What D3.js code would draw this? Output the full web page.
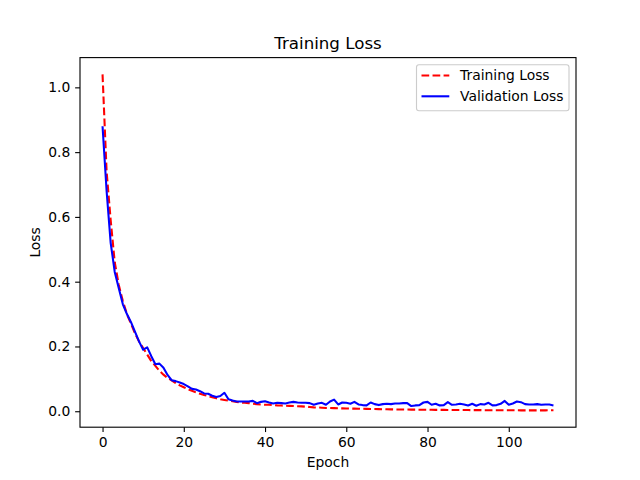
<!DOCTYPE html>
<html>
<head>
<meta charset="utf-8">
<script src="https://cdn.jsdelivr.net/npm/d3@7"></script>
<style>
  body { margin: 0; background: #fff; }
  svg { display: block; font-family: "DejaVu Sans", sans-serif; }
</style>
</head>
<body>
<div id="chart"></div>
<script>
// loss per epoch
trainLoss = [
  1.04, 0.74, 0.59, 0.46, 0.39, 0.34, 0.30, 0.27, 0.24, 0.215,
  0.195, 0.175, 0.155, 0.14, 0.125, 0.113, 0.103, 0.095, 0.087, 0.080,
  0.074, 0.068, 0.063, 0.058, 0.054, 0.050, 0.047, 0.043, 0.040, 0.037,
  0.035, 0.033, 0.031, 0.029, 0.027, 0.026, 0.025, 0.023, 0.022, 0.021,
  0.020, 0.020, 0.019, 0.018, 0.0175, 0.017, 0.0165, 0.016, 0.0155, 0.015,
  0.014, 0.013, 0.012, 0.0115, 0.011, 0.010, 0.0098, 0.0095, 0.009, 0.0088,
  0.0085, 0.0082, 0.008, 0.0078, 0.0075, 0.0072, 0.007, 0.0068, 0.0065, 0.0063,
  0.006, 0.0058, 0.0056, 0.0055, 0.0053, 0.0052, 0.005, 0.0049, 0.0048, 0.0046,
  0.0045, 0.0044, 0.0043, 0.0042, 0.0041, 0.004, 0.0039, 0.0038, 0.0037, 0.0036,
  0.0036, 0.0035, 0.0034, 0.0034, 0.0033, 0.0032, 0.0032, 0.0031, 0.0031, 0.003,
  0.003, 0.0029, 0.0029, 0.0028, 0.0028, 0.0027, 0.0027, 0.0026, 0.0026, 0.0027,
  0.0029, 0.0031
]
valLoss = [
  0.88, 0.68, 0.52, 0.43, 0.38, 0.33, 0.30, 0.275, 0.245, 0.215,
  0.19, 0.197, 0.17, 0.145, 0.147, 0.134, 0.112, 0.096, 0.093, 0.089,
  0.084, 0.077, 0.069, 0.067, 0.062, 0.055, 0.054, 0.048, 0.044, 0.047,
  0.057, 0.037, 0.033, 0.030, 0.030, 0.030, 0.030, 0.032, 0.025, 0.029,
  0.031, 0.027, 0.024, 0.026, 0.025, 0.024, 0.027, 0.029, 0.027, 0.026,
  0.026, 0.025, 0.020, 0.024, 0.026, 0.020, 0.030, 0.036, 0.021, 0.027,
  0.026, 0.023, 0.029, 0.021, 0.019, 0.018, 0.027, 0.022, 0.019, 0.022,
  0.023, 0.022, 0.024, 0.024, 0.025, 0.025, 0.016, 0.018, 0.019, 0.027,
  0.029, 0.020, 0.023, 0.018, 0.019, 0.028, 0.020, 0.021, 0.023, 0.021,
  0.018, 0.023, 0.017, 0.022, 0.021, 0.026, 0.018, 0.019, 0.023, 0.032,
  0.020, 0.024, 0.030, 0.028, 0.022, 0.021, 0.021, 0.022, 0.020, 0.021,
  0.021, 0.018
]
xTicks = [0, 20, 40, 60, 80, 100]
yTicks = [0.0, 0.2, 0.4, 0.6, 0.8, 1.0]
seriesNames = ["Training Loss", "Validation Loss"]
seriesColors = ["#ff0000", "#0000ff"]

const width = 640, height = 480;
const margin = {left: 80, right: 64, top: 57.6, bottom: 52.8};
const pt = 100 / 72; // matplotlib points -> px at 100 dpi

const svg = d3.select("#chart").append("svg")
    .attr("width", width)
    .attr("height", height);

// matplotlib style 5% padding on the data range
const epochs = d3.range(trainLoss.length);
const xExt = d3.extent(epochs);
const yExt = d3.extent(trainLoss.concat(valLoss));
const xPad = (xExt[1] - xExt[0]) * 0.05, yPad = (yExt[1] - yExt[0]) * 0.05;

const x = d3.scaleLinear()
    .domain([xExt[0] - xPad, xExt[1] + xPad])
    .range([margin.left, width - margin.right]);
const y = d3.scaleLinear()
    .domain([yExt[0] - yPad, yExt[1] + yPad])
    .range([height - margin.bottom, margin.top]);

const line = d3.line()
    .x((d, i) => x(i))
    .y(d => y(d));

const plot = svg.append("g");
plot.append("path")
    .datum(trainLoss)
    .attr("d", line)
    .attr("fill", "none")
    .attr("stroke", seriesColors[0])
    .attr("stroke-width", 1.5 * pt)
    .attr("stroke-dasharray", `${5.55 * pt},${2.4 * pt}`);
plot.append("path")
    .datum(valLoss)
    .attr("d", line)
    .attr("fill", "none")
    .attr("stroke", seriesColors[1])
    .attr("stroke-width", 1.5 * pt)
    .attr("stroke-linejoin", "round");

// axes
const tick = 3.5 * pt;
const xAxis = svg.append("g")
    .attr("transform", `translate(0,${height - margin.bottom})`)
    .call(d3.axisBottom(x).tickValues(xTicks).tickSize(tick).tickPadding(3.5 * pt).tickFormat(d3.format("d")));
const yAxis = svg.append("g")
    .attr("transform", `translate(${margin.left},0)`)
    .call(d3.axisLeft(y).tickValues(yTicks).tickSize(tick).tickPadding(3.5 * pt).tickFormat(d3.format(".1f")));
[xAxis, yAxis].forEach(a => {
  a.select(".domain").remove();
  a.selectAll(".tick line").attr("stroke", "#000").attr("stroke-width", 0.8 * pt);
  a.selectAll(".tick text")
      .attr("fill", "#000")
      .style("font-family", "DejaVu Sans")
      .style("font-size", (10 * pt) + "px");
});

// frame
svg.append("rect")
    .attr("x", margin.left)
    .attr("y", margin.top)
    .attr("width", width - margin.left - margin.right)
    .attr("height", height - margin.top - margin.bottom)
    .attr("fill", "none")
    .attr("stroke", "#000")
    .attr("stroke-width", 0.8 * pt);

// titles
svg.append("text")
    .attr("x", (margin.left + width - margin.right) / 2)
    .attr("y", 49)
    .attr("text-anchor", "middle")
    .style("font-size", (12 * pt) + "px")
    .text("Training Loss");
svg.append("text")
    .attr("x", (margin.left + width - margin.right) / 2)
    .attr("y", 467)
    .attr("text-anchor", "middle")
    .style("font-size", (10 * pt) + "px")
    .text("Epoch");
svg.append("text")
    .attr("transform", `translate(40,${(margin.top + height - margin.bottom) / 2}) rotate(-90)`)
    .attr("text-anchor", "middle")
    .style("font-size", (10 * pt) + "px")
    .text("Loss");

// legend
const lg = svg.append("g");
lg.append("rect")
    .attr("x", 416.5).attr("y", 64.8)
    .attr("width", 152.5).attr("height", 46)
    .attr("rx", 2.5)
    .attr("fill", "#fff").attr("fill-opacity", 0.8)
    .attr("stroke", "#cccccc").attr("stroke-width", 0.8 * pt);
seriesNames.forEach((name, i) => {
  const ly = 75.5 + i * 20.8;
  lg.append("line")
      .attr("x1", 421.5).attr("x2", 449.3)
      .attr("y1", ly).attr("y2", ly)
      .attr("stroke", seriesColors[i])
      .attr("stroke-width", 1.5 * pt)
      .attr("stroke-dasharray", i === 0 ? `${5.55 * pt},${2.4 * pt}` : null);
  lg.append("text")
      .attr("x", 460).attr("y", ly)
      .attr("dy", "0.35em")
      .style("font-size", (10 * pt) + "px")
      .text(name);
});
</script>
</body>
</html>
